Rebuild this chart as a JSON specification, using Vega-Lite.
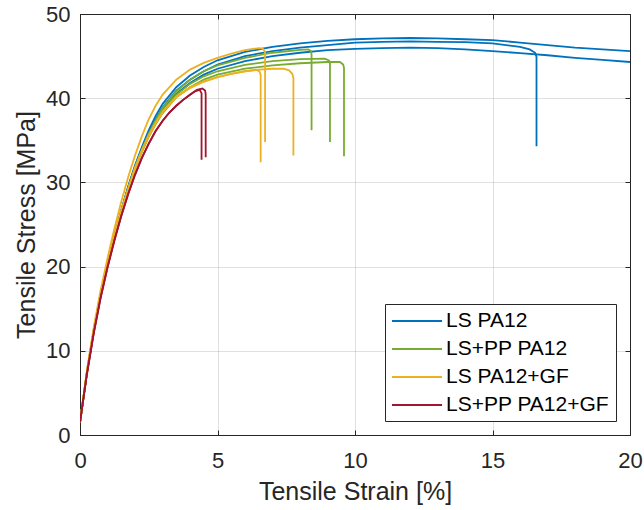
{
  "$schema": "https://vega.github.io/schema/vega-lite/v6.json",
  "width": 550,
  "height": 421,
  "autosize": {"type": "none"},
  "padding": {"left": 80, "top": 14, "right": 14, "bottom": 75},
  "background": "white",
  "config": {
    "view": {"stroke": "#262626", "strokeWidth": 1},
    "font": "Liberation Sans"
  },
  "data": {
    "values": [
      {"m":"LS PA12","s":"B1","x":0,"y":1.5},{"m":"LS PA12","s":"B1","x":0.25,"y":7.4},{"m":"LS PA12","s":"B1","x":0.5,"y":12.4},{"m":"LS PA12","s":"B1","x":0.75,"y":16.7},{"m":"LS PA12","s":"B1","x":1,"y":20.3},{"m":"LS PA12","s":"B1","x":1.25,"y":23.6},{"m":"LS PA12","s":"B1","x":1.5,"y":26.7},{"m":"LS PA12","s":"B1","x":1.75,"y":29.5},{"m":"LS PA12","s":"B1","x":2,"y":32.0},{"m":"LS PA12","s":"B1","x":2.25,"y":34.2},{"m":"LS PA12","s":"B1","x":2.5,"y":36.2},{"m":"LS PA12","s":"B1","x":2.75,"y":37.9},{"m":"LS PA12","s":"B1","x":3,"y":39.3},{"m":"LS PA12","s":"B1","x":3.5,"y":41.3},{"m":"LS PA12","s":"B1","x":4,"y":42.7},{"m":"LS PA12","s":"B1","x":4.5,"y":43.7},{"m":"LS PA12","s":"B1","x":5,"y":44.5},{"m":"LS PA12","s":"B1","x":6,"y":45.5},{"m":"LS PA12","s":"B1","x":7,"y":46.1},{"m":"LS PA12","s":"B1","x":8,"y":46.5},{"m":"LS PA12","s":"B1","x":9,"y":46.8},{"m":"LS PA12","s":"B1","x":10,"y":47.0},{"m":"LS PA12","s":"B1","x":11,"y":47.1},{"m":"LS PA12","s":"B1","x":12,"y":47.15},{"m":"LS PA12","s":"B1","x":13,"y":47.1},{"m":"LS PA12","s":"B1","x":14,"y":47.0},{"m":"LS PA12","s":"B1","x":15,"y":46.9},{"m":"LS PA12","s":"B1","x":16,"y":46.6},{"m":"LS PA12","s":"B1","x":17,"y":46.3},{"m":"LS PA12","s":"B1","x":18,"y":46.0},{"m":"LS PA12","s":"B1","x":19,"y":45.8},{"m":"LS PA12","s":"B1","x":20,"y":45.6},

      {"m":"LS PA12","s":"B2","x":0,"y":1.5},{"m":"LS PA12","s":"B2","x":0.25,"y":7.4},{"m":"LS PA12","s":"B2","x":0.5,"y":12.4},{"m":"LS PA12","s":"B2","x":0.75,"y":16.7},{"m":"LS PA12","s":"B2","x":1,"y":20.3},{"m":"LS PA12","s":"B2","x":1.25,"y":23.6},{"m":"LS PA12","s":"B2","x":1.5,"y":26.6},{"m":"LS PA12","s":"B2","x":1.75,"y":29.4},{"m":"LS PA12","s":"B2","x":2,"y":31.9},{"m":"LS PA12","s":"B2","x":2.25,"y":34.0},{"m":"LS PA12","s":"B2","x":2.5,"y":35.9},{"m":"LS PA12","s":"B2","x":2.75,"y":37.5},{"m":"LS PA12","s":"B2","x":3,"y":38.9},{"m":"LS PA12","s":"B2","x":3.5,"y":40.9},{"m":"LS PA12","s":"B2","x":4,"y":42.2},{"m":"LS PA12","s":"B2","x":4.5,"y":43.2},{"m":"LS PA12","s":"B2","x":5,"y":44.0},{"m":"LS PA12","s":"B2","x":6,"y":45.0},{"m":"LS PA12","s":"B2","x":7,"y":45.6},{"m":"LS PA12","s":"B2","x":8,"y":46.0},{"m":"LS PA12","s":"B2","x":9,"y":46.3},{"m":"LS PA12","s":"B2","x":10,"y":46.6},{"m":"LS PA12","s":"B2","x":11,"y":46.7},{"m":"LS PA12","s":"B2","x":12,"y":46.75},{"m":"LS PA12","s":"B2","x":13,"y":46.7},{"m":"LS PA12","s":"B2","x":14,"y":46.65},{"m":"LS PA12","s":"B2","x":15,"y":46.5},{"m":"LS PA12","s":"B2","x":16,"y":46.1},{"m":"LS PA12","s":"B2","x":16.35,"y":45.8},{"m":"LS PA12","s":"B2","x":16.55,"y":45.4},{"m":"LS PA12","s":"B2","x":16.6,"y":44.9},{"m":"LS PA12","s":"B2","x":16.6,"y":34.3},

      {"m":"LS PA12","s":"B3","x":0,"y":1.5},{"m":"LS PA12","s":"B3","x":0.25,"y":7.4},{"m":"LS PA12","s":"B3","x":0.5,"y":12.4},{"m":"LS PA12","s":"B3","x":0.75,"y":16.7},{"m":"LS PA12","s":"B3","x":1,"y":20.3},{"m":"LS PA12","s":"B3","x":1.25,"y":23.6},{"m":"LS PA12","s":"B3","x":1.5,"y":26.6},{"m":"LS PA12","s":"B3","x":1.75,"y":29.3},{"m":"LS PA12","s":"B3","x":2,"y":31.8},{"m":"LS PA12","s":"B3","x":2.25,"y":33.9},{"m":"LS PA12","s":"B3","x":2.5,"y":35.7},{"m":"LS PA12","s":"B3","x":2.75,"y":37.2},{"m":"LS PA12","s":"B3","x":3,"y":38.6},{"m":"LS PA12","s":"B3","x":3.5,"y":40.5},{"m":"LS PA12","s":"B3","x":4,"y":41.8},{"m":"LS PA12","s":"B3","x":4.5,"y":42.8},{"m":"LS PA12","s":"B3","x":5,"y":43.5},{"m":"LS PA12","s":"B3","x":6,"y":44.4},{"m":"LS PA12","s":"B3","x":7,"y":45.0},{"m":"LS PA12","s":"B3","x":8,"y":45.4},{"m":"LS PA12","s":"B3","x":9,"y":45.7},{"m":"LS PA12","s":"B3","x":10,"y":45.85},{"m":"LS PA12","s":"B3","x":11,"y":45.95},{"m":"LS PA12","s":"B3","x":12,"y":46.0},{"m":"LS PA12","s":"B3","x":13,"y":45.95},{"m":"LS PA12","s":"B3","x":14,"y":45.8},{"m":"LS PA12","s":"B3","x":15,"y":45.6},{"m":"LS PA12","s":"B3","x":16,"y":45.35},{"m":"LS PA12","s":"B3","x":17,"y":45.1},{"m":"LS PA12","s":"B3","x":18,"y":44.8},{"m":"LS PA12","s":"B3","x":19,"y":44.55},{"m":"LS PA12","s":"B3","x":20,"y":44.3},

      {"m":"LS+PP PA12","s":"G1","x":0,"y":1.5},{"m":"LS+PP PA12","s":"G1","x":0.25,"y":7.4},{"m":"LS+PP PA12","s":"G1","x":0.5,"y":12.4},{"m":"LS+PP PA12","s":"G1","x":0.75,"y":16.7},{"m":"LS+PP PA12","s":"G1","x":1,"y":20.3},{"m":"LS+PP PA12","s":"G1","x":1.25,"y":23.6},{"m":"LS+PP PA12","s":"G1","x":1.5,"y":26.6},{"m":"LS+PP PA12","s":"G1","x":1.75,"y":29.3},{"m":"LS+PP PA12","s":"G1","x":2,"y":31.8},{"m":"LS+PP PA12","s":"G1","x":2.25,"y":33.9},{"m":"LS+PP PA12","s":"G1","x":2.5,"y":35.8},{"m":"LS+PP PA12","s":"G1","x":2.75,"y":37.4},{"m":"LS+PP PA12","s":"G1","x":3,"y":38.8},{"m":"LS+PP PA12","s":"G1","x":3.5,"y":40.8},{"m":"LS+PP PA12","s":"G1","x":4,"y":42.2},{"m":"LS+PP PA12","s":"G1","x":4.5,"y":43.2},{"m":"LS+PP PA12","s":"G1","x":5,"y":43.9},{"m":"LS+PP PA12","s":"G1","x":6,"y":44.8},{"m":"LS+PP PA12","s":"G1","x":7,"y":45.4},{"m":"LS+PP PA12","s":"G1","x":8,"y":45.75},{"m":"LS+PP PA12","s":"G1","x":8.3,"y":45.8},{"m":"LS+PP PA12","s":"G1","x":8.4,"y":45.6},{"m":"LS+PP PA12","s":"G1","x":8.42,"y":45.2},{"m":"LS+PP PA12","s":"G1","x":8.42,"y":36.2},

      {"m":"LS+PP PA12","s":"G2","x":0,"y":1.5},{"m":"LS+PP PA12","s":"G2","x":0.25,"y":7.4},{"m":"LS+PP PA12","s":"G2","x":0.5,"y":12.4},{"m":"LS+PP PA12","s":"G2","x":0.75,"y":16.7},{"m":"LS+PP PA12","s":"G2","x":1,"y":20.3},{"m":"LS+PP PA12","s":"G2","x":1.25,"y":23.6},{"m":"LS+PP PA12","s":"G2","x":1.5,"y":26.6},{"m":"LS+PP PA12","s":"G2","x":1.75,"y":29.2},{"m":"LS+PP PA12","s":"G2","x":2,"y":31.7},{"m":"LS+PP PA12","s":"G2","x":2.25,"y":33.8},{"m":"LS+PP PA12","s":"G2","x":2.5,"y":35.6},{"m":"LS+PP PA12","s":"G2","x":2.75,"y":37.1},{"m":"LS+PP PA12","s":"G2","x":3,"y":38.5},{"m":"LS+PP PA12","s":"G2","x":3.5,"y":40.4},{"m":"LS+PP PA12","s":"G2","x":4,"y":41.7},{"m":"LS+PP PA12","s":"G2","x":4.5,"y":42.6},{"m":"LS+PP PA12","s":"G2","x":5,"y":43.2},{"m":"LS+PP PA12","s":"G2","x":6,"y":43.95},{"m":"LS+PP PA12","s":"G2","x":7,"y":44.4},{"m":"LS+PP PA12","s":"G2","x":8,"y":44.65},{"m":"LS+PP PA12","s":"G2","x":8.9,"y":44.7},{"m":"LS+PP PA12","s":"G2","x":9.05,"y":44.5},{"m":"LS+PP PA12","s":"G2","x":9.09,"y":44.1},{"m":"LS+PP PA12","s":"G2","x":9.09,"y":34.8},

      {"m":"LS+PP PA12","s":"G3","x":0,"y":1.5},{"m":"LS+PP PA12","s":"G3","x":0.25,"y":7.4},{"m":"LS+PP PA12","s":"G3","x":0.5,"y":12.4},{"m":"LS+PP PA12","s":"G3","x":0.75,"y":16.7},{"m":"LS+PP PA12","s":"G3","x":1,"y":20.3},{"m":"LS+PP PA12","s":"G3","x":1.25,"y":23.5},{"m":"LS+PP PA12","s":"G3","x":1.5,"y":26.5},{"m":"LS+PP PA12","s":"G3","x":1.75,"y":29.1},{"m":"LS+PP PA12","s":"G3","x":2,"y":31.6},{"m":"LS+PP PA12","s":"G3","x":2.25,"y":33.6},{"m":"LS+PP PA12","s":"G3","x":2.5,"y":35.4},{"m":"LS+PP PA12","s":"G3","x":2.75,"y":36.9},{"m":"LS+PP PA12","s":"G3","x":3,"y":38.2},{"m":"LS+PP PA12","s":"G3","x":3.5,"y":40.1},{"m":"LS+PP PA12","s":"G3","x":4,"y":41.3},{"m":"LS+PP PA12","s":"G3","x":4.5,"y":42.2},{"m":"LS+PP PA12","s":"G3","x":5,"y":42.8},{"m":"LS+PP PA12","s":"G3","x":6,"y":43.5},{"m":"LS+PP PA12","s":"G3","x":7,"y":43.9},{"m":"LS+PP PA12","s":"G3","x":8,"y":44.15},{"m":"LS+PP PA12","s":"G3","x":9,"y":44.3},{"m":"LS+PP PA12","s":"G3","x":9.45,"y":44.3},{"m":"LS+PP PA12","s":"G3","x":9.57,"y":44.0},{"m":"LS+PP PA12","s":"G3","x":9.6,"y":43.6},{"m":"LS+PP PA12","s":"G3","x":9.6,"y":33.1},

      {"m":"LS PA12+GF","s":"Y1","x":0,"y":1.5},{"m":"LS PA12+GF","s":"Y1","x":0.25,"y":7.6},{"m":"LS PA12+GF","s":"Y1","x":0.5,"y":12.8},{"m":"LS PA12+GF","s":"Y1","x":0.75,"y":17.2},{"m":"LS PA12+GF","s":"Y1","x":1,"y":21.0},{"m":"LS PA12+GF","s":"Y1","x":1.25,"y":24.5},{"m":"LS PA12+GF","s":"Y1","x":1.5,"y":27.7},{"m":"LS PA12+GF","s":"Y1","x":1.75,"y":30.6},{"m":"LS PA12+GF","s":"Y1","x":2,"y":33.2},{"m":"LS PA12+GF","s":"Y1","x":2.25,"y":35.5},{"m":"LS PA12+GF","s":"Y1","x":2.5,"y":37.5},{"m":"LS PA12+GF","s":"Y1","x":2.75,"y":39.1},{"m":"LS PA12+GF","s":"Y1","x":3,"y":40.4},{"m":"LS PA12+GF","s":"Y1","x":3.5,"y":42.2},{"m":"LS PA12+GF","s":"Y1","x":4,"y":43.4},{"m":"LS PA12+GF","s":"Y1","x":4.5,"y":44.2},{"m":"LS PA12+GF","s":"Y1","x":5,"y":44.8},{"m":"LS PA12+GF","s":"Y1","x":5.5,"y":45.3},{"m":"LS PA12+GF","s":"Y1","x":6,"y":45.7},{"m":"LS PA12+GF","s":"Y1","x":6.5,"y":45.95},{"m":"LS PA12+GF","s":"Y1","x":6.65,"y":45.9},{"m":"LS PA12+GF","s":"Y1","x":6.73,"y":45.5},{"m":"LS PA12+GF","s":"Y1","x":6.73,"y":34.8},

      {"m":"LS PA12+GF","s":"Y2","x":0,"y":1.5},{"m":"LS PA12+GF","s":"Y2","x":0.25,"y":7.4},{"m":"LS PA12+GF","s":"Y2","x":0.5,"y":12.4},{"m":"LS PA12+GF","s":"Y2","x":0.75,"y":16.7},{"m":"LS PA12+GF","s":"Y2","x":1,"y":20.3},{"m":"LS PA12+GF","s":"Y2","x":1.25,"y":23.6},{"m":"LS PA12+GF","s":"Y2","x":1.5,"y":26.6},{"m":"LS PA12+GF","s":"Y2","x":1.75,"y":29.2},{"m":"LS PA12+GF","s":"Y2","x":2,"y":31.7},{"m":"LS PA12+GF","s":"Y2","x":2.25,"y":33.8},{"m":"LS PA12+GF","s":"Y2","x":2.5,"y":35.6},{"m":"LS PA12+GF","s":"Y2","x":2.75,"y":37.1},{"m":"LS PA12+GF","s":"Y2","x":3,"y":38.4},{"m":"LS PA12+GF","s":"Y2","x":3.5,"y":40.2},{"m":"LS PA12+GF","s":"Y2","x":4,"y":41.3},{"m":"LS PA12+GF","s":"Y2","x":4.5,"y":42.0},{"m":"LS PA12+GF","s":"Y2","x":5,"y":42.5},{"m":"LS PA12+GF","s":"Y2","x":5.5,"y":42.9},{"m":"LS PA12+GF","s":"Y2","x":6,"y":43.2},{"m":"LS PA12+GF","s":"Y2","x":6.4,"y":43.35},{"m":"LS PA12+GF","s":"Y2","x":6.52,"y":43.2},{"m":"LS PA12+GF","s":"Y2","x":6.57,"y":42.8},{"m":"LS PA12+GF","s":"Y2","x":6.57,"y":32.4},

      {"m":"LS PA12+GF","s":"Y3","x":0,"y":1.5},{"m":"LS PA12+GF","s":"Y3","x":0.25,"y":7.4},{"m":"LS PA12+GF","s":"Y3","x":0.5,"y":12.4},{"m":"LS PA12+GF","s":"Y3","x":0.75,"y":16.7},{"m":"LS PA12+GF","s":"Y3","x":1,"y":20.3},{"m":"LS PA12+GF","s":"Y3","x":1.25,"y":23.5},{"m":"LS PA12+GF","s":"Y3","x":1.5,"y":26.5},{"m":"LS PA12+GF","s":"Y3","x":1.75,"y":29.1},{"m":"LS PA12+GF","s":"Y3","x":2,"y":31.6},{"m":"LS PA12+GF","s":"Y3","x":2.25,"y":33.7},{"m":"LS PA12+GF","s":"Y3","x":2.5,"y":35.5},{"m":"LS PA12+GF","s":"Y3","x":2.75,"y":37.0},{"m":"LS PA12+GF","s":"Y3","x":3,"y":38.3},{"m":"LS PA12+GF","s":"Y3","x":3.5,"y":40.1},{"m":"LS PA12+GF","s":"Y3","x":4,"y":41.2},{"m":"LS PA12+GF","s":"Y3","x":4.5,"y":41.95},{"m":"LS PA12+GF","s":"Y3","x":5,"y":42.5},{"m":"LS PA12+GF","s":"Y3","x":5.5,"y":42.9},{"m":"LS PA12+GF","s":"Y3","x":6,"y":43.2},{"m":"LS PA12+GF","s":"Y3","x":6.5,"y":43.4},{"m":"LS PA12+GF","s":"Y3","x":7,"y":43.5},{"m":"LS PA12+GF","s":"Y3","x":7.4,"y":43.5},{"m":"LS PA12+GF","s":"Y3","x":7.6,"y":43.3},{"m":"LS PA12+GF","s":"Y3","x":7.72,"y":42.9},{"m":"LS PA12+GF","s":"Y3","x":7.76,"y":42.4},{"m":"LS PA12+GF","s":"Y3","x":7.76,"y":33.2},

      {"m":"LS+PP PA12+GF","s":"R1","x":0,"y":1.5},{"m":"LS+PP PA12+GF","s":"R1","x":0.25,"y":7.2},{"m":"LS+PP PA12+GF","s":"R1","x":0.5,"y":12.1},{"m":"LS+PP PA12+GF","s":"R1","x":0.75,"y":16.3},{"m":"LS+PP PA12+GF","s":"R1","x":1,"y":19.9},{"m":"LS+PP PA12+GF","s":"R1","x":1.25,"y":23.1},{"m":"LS+PP PA12+GF","s":"R1","x":1.5,"y":26.0},{"m":"LS+PP PA12+GF","s":"R1","x":1.75,"y":28.6},{"m":"LS+PP PA12+GF","s":"R1","x":2,"y":30.9},{"m":"LS+PP PA12+GF","s":"R1","x":2.25,"y":32.9},{"m":"LS+PP PA12+GF","s":"R1","x":2.5,"y":34.6},{"m":"LS+PP PA12+GF","s":"R1","x":2.75,"y":36.1},{"m":"LS+PP PA12+GF","s":"R1","x":3,"y":37.3},{"m":"LS+PP PA12+GF","s":"R1","x":3.25,"y":38.3},{"m":"LS+PP PA12+GF","s":"R1","x":3.5,"y":39.1},{"m":"LS+PP PA12+GF","s":"R1","x":3.75,"y":39.8},{"m":"LS+PP PA12+GF","s":"R1","x":4,"y":40.4},{"m":"LS+PP PA12+GF","s":"R1","x":4.2,"y":40.85},{"m":"LS+PP PA12+GF","s":"R1","x":4.35,"y":41.0},{"m":"LS+PP PA12+GF","s":"R1","x":4.42,"y":40.6},{"m":"LS+PP PA12+GF","s":"R1","x":4.42,"y":32.7},

      {"m":"LS+PP PA12+GF","s":"R2","x":0,"y":1.5},{"m":"LS+PP PA12+GF","s":"R2","x":0.25,"y":7.2},{"m":"LS+PP PA12+GF","s":"R2","x":0.5,"y":12.1},{"m":"LS+PP PA12+GF","s":"R2","x":0.75,"y":16.3},{"m":"LS+PP PA12+GF","s":"R2","x":1,"y":19.9},{"m":"LS+PP PA12+GF","s":"R2","x":1.25,"y":23.1},{"m":"LS+PP PA12+GF","s":"R2","x":1.5,"y":26.0},{"m":"LS+PP PA12+GF","s":"R2","x":1.75,"y":28.6},{"m":"LS+PP PA12+GF","s":"R2","x":2,"y":30.9},{"m":"LS+PP PA12+GF","s":"R2","x":2.25,"y":32.9},{"m":"LS+PP PA12+GF","s":"R2","x":2.5,"y":34.6},{"m":"LS+PP PA12+GF","s":"R2","x":2.75,"y":36.1},{"m":"LS+PP PA12+GF","s":"R2","x":3,"y":37.3},{"m":"LS+PP PA12+GF","s":"R2","x":3.25,"y":38.3},{"m":"LS+PP PA12+GF","s":"R2","x":3.5,"y":39.1},{"m":"LS+PP PA12+GF","s":"R2","x":3.75,"y":39.8},{"m":"LS+PP PA12+GF","s":"R2","x":4,"y":40.4},{"m":"LS+PP PA12+GF","s":"R2","x":4.25,"y":41.0},{"m":"LS+PP PA12+GF","s":"R2","x":4.45,"y":41.15},{"m":"LS+PP PA12+GF","s":"R2","x":4.55,"y":40.9},{"m":"LS+PP PA12+GF","s":"R2","x":4.57,"y":40.5},{"m":"LS+PP PA12+GF","s":"R2","x":4.57,"y":33.0}
    ]
  },
  "layer": [
    {
      "mark": {"type": "line", "strokeWidth": 1.8, "clip": true},
      "encoding": {
        "x": {
          "field": "x", "type": "quantitative",
          "scale": {"domain": [0, 20], "nice": false, "zero": false},
          "axis": {
            "title": "Tensile Strain [%]",
            "values": [0, 5, 10, 15, 20],
            "grid": true, "gridColor": "#262626", "gridOpacity": 0.14, "gridWidth": 1,
            "domain": true, "domainColor": "#262626",
            "ticks": true, "tickSize": -5, "tickColor": "#262626",
            "labelFontSize": 22, "labelColor": "#262626", "labelPadding": 20, "labelFont": "Liberation Sans",
            "labelFlush": false, "labelOverlap": false,
            "titleFontSize": 25, "titleFontWeight": "normal", "titleColor": "#262626", "titleFont": "Liberation Sans",
            "titleBaseline": "alphabetic", "titleY": 64
          }
        },
        "y": {
          "field": "y", "type": "quantitative",
          "scale": {"domain": [0, 50], "nice": false, "zero": false},
          "axis": {
            "title": "Tensile Stress [MPa]",
            "values": [0, 10, 20, 30, 40, 50],
            "grid": true, "gridColor": "#262626", "gridOpacity": 0.14, "gridWidth": 1,
            "domain": true, "domainColor": "#262626",
            "ticks": true, "tickSize": -5, "tickColor": "#262626",
            "labelFontSize": 22, "labelColor": "#262626", "labelPadding": 15, "labelFont": "Liberation Sans",
            "labelFlush": false, "labelOverlap": false,
            "titleFontSize": 25, "titleFontWeight": "normal", "titleColor": "#262626", "titleFont": "Liberation Sans",
            "titleBaseline": "alphabetic", "titleX": -46
          }
        },
        "color": {
          "field": "m", "type": "nominal",
          "scale": {
            "domain": ["LS PA12", "LS+PP PA12", "LS PA12+GF", "LS+PP PA12+GF"],
            "range": ["#0072BD", "#77AC30", "#EDB120", "#A2142F"]
          },
          "legend": {
            "title": null,
            "orient": "none", "legendX": 305, "legendY": 290,
            "symbolType": "M-1,0H4", "symbolSize": 400, "symbolStrokeWidth": 2,
            "labelFontSize": 21, "labelColor": "#000000", "labelFont": "Liberation Sans", "labelOffset": 33,
            "strokeColor": "#262626", "fillColor": "white", "padding": 6, "rowPadding": 7,
            "labelLimit": 400
          }
        },
        "detail": {"field": "s"},
        "order": {"value": null}
      }
    },
    {
      "mark": {"type": "line", "opacity": 0},
      "encoding": {
        "x": {"field": "x", "type": "quantitative", "axis": {"orient": "top", "labels": false, "title": null, "grid": false, "domain": false, "values": [0, 5, 10, 15, 20], "tickSize": -5, "tickColor": "#262626"}},
        "y": {"field": "y", "type": "quantitative", "axis": {"orient": "right", "labels": false, "title": null, "grid": false, "domain": false, "values": [0, 10, 20, 30, 40, 50], "tickSize": -5, "tickColor": "#262626"}},
        "detail": {"field": "s"}
      }
    }
  ],
  "resolve": {"axis": {"x": "independent", "y": "independent"}}
}
